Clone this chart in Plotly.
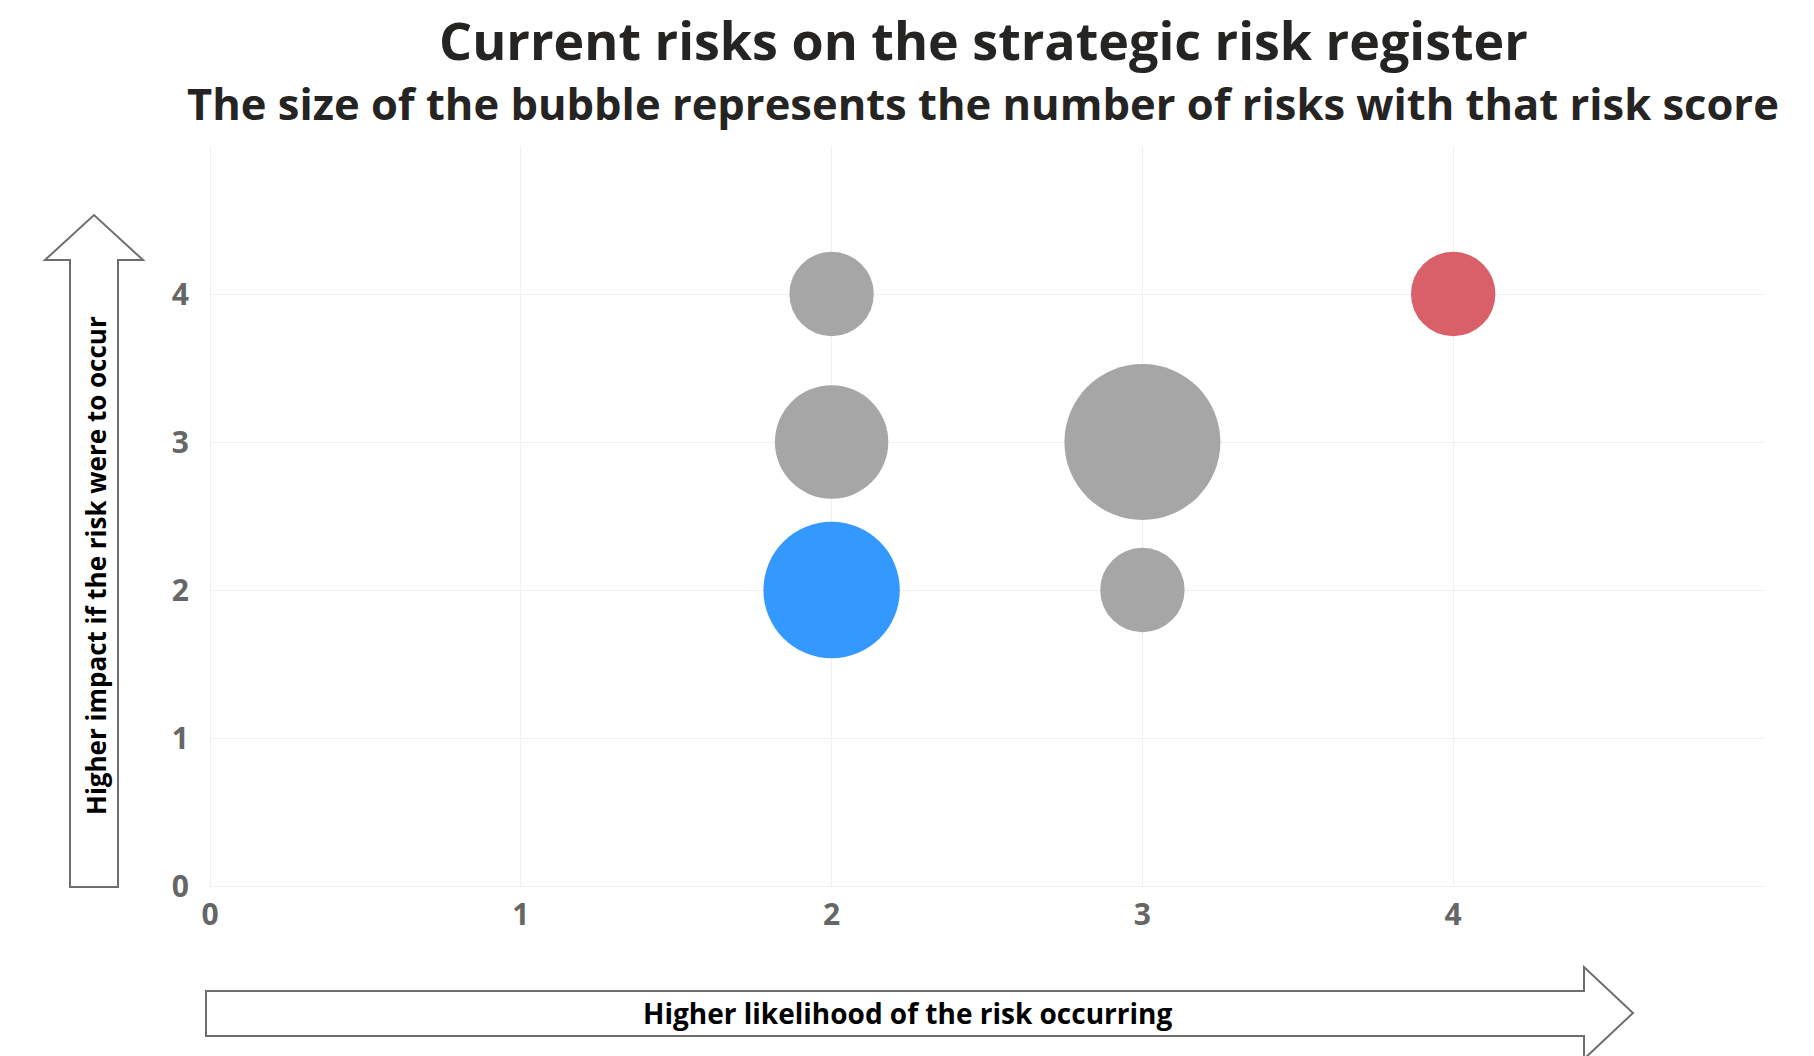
import plotly.graph_objects as go

# ---- data ----
likelihood = [2, 2, 2, 3, 3, 4]
impact = [4, 3, 2, 3, 2, 4]
risk_count = [1, 2, 3, 4, 1, 1]
status = ["other", "other", "blue", "other", "other", "red"]
x_ticks = [0, 1, 2, 3, 4, 5]
y_ticks = [0, 1, 2, 3, 4, 5]
tick_labels = ["0", "1", "2", "3", "4", ""]

title_text = "Current risks on the strategic risk register"
subtitle_text = "The size of the bubble represents the number of risks with that risk score"
x_label = "Higher likelihood of the risk occurring"
y_label = "Higher impact if the risk were to occur"

# ---- style ----
W, H = 1814, 1056
L, R, T, B = 210, 1764, 146, 886
color_map = {"other": "#A6A6A6", "blue": "#3399FF", "red": "#D95F69"}
SIZE_BASE, SIZE_K = 1385, 5738   # bubble area scale (px^2)
FONT = "Open Sans"


def px(x):
    return (x - L) / (R - L)


def py(y):
    return (B - y) / (B - T)


sizes = [(SIZE_BASE + SIZE_K * n) ** 0.5 for n in risk_count]
colors = [color_map[s] for s in status]

fig = go.Figure()
fig.add_trace(go.Scatter(
    x=likelihood, y=impact, mode="markers",
    marker=dict(size=sizes, sizemode="diameter", color=colors, opacity=1,
                line=dict(width=0)),
    hoverinfo="skip", showlegend=False,
))


def arrow_path(points):
    return "M " + " L ".join(f"{px(a):.5f},{py(b):.5f}" for a, b in points) + " Z"


y_arrow = [(70, 887), (70, 260), (45, 260), (94, 215), (143, 260), (118, 260), (118, 887)]
x_arrow = [(206, 991), (1584, 991), (1584, 967), (1633, 1013), (1584, 1059), (1584, 1036), (206, 1036)]
shapes = []
for pts in (y_arrow, x_arrow):
    shapes.append(dict(type="path", xref="paper", yref="paper", path=arrow_path(pts),
                       line=dict(color="#6E6E6E", width=2), fillcolor="white", layer="above"))

annotations = [
    dict(text=title_text, x=px(983), y=py(40), xref="paper", yref="paper",
         showarrow=False, xanchor="center", yanchor="middle",
         font=dict(family=FONT, size=52, color="#252423", weight="bold")),
    dict(text=subtitle_text, x=px(983), y=py(104), xref="paper", yref="paper",
         showarrow=False, xanchor="center", yanchor="middle",
         font=dict(family=FONT, size=43.5, color="#252423", weight="bold")),
    dict(text=x_label, x=px(907), y=py(1013), xref="paper", yref="paper",
         showarrow=False, xanchor="center", yanchor="middle",
         font=dict(family=FONT, size=28, color="#000000", weight="bold")),
    dict(text=y_label, x=px(96), y=py(566), xref="paper", yref="paper",
         showarrow=False, xanchor="center", yanchor="middle", textangle=-90,
         font=dict(family=FONT, size=26, color="#000000", weight="bold")),
]

axis_common = dict(
    range=[0, 5], showgrid=True, gridcolor="#F0F0F0", gridwidth=1,
    zeroline=True, zerolinecolor="#F0F0F0", zerolinewidth=1, showline=False,
    ticks="", tickfont=dict(family=FONT, size=30, color="#666666", weight="bold"),
    fixedrange=True,
)

fig.update_layout(
    width=W, height=H,
    margin=dict(l=L, r=W - R, t=T, b=H - B, pad=0),
    paper_bgcolor="white", plot_bgcolor="white",
    xaxis=dict(tickvals=x_ticks, ticktext=tick_labels, ticklabelstandoff=8, **axis_common),
    yaxis=dict(tickvals=y_ticks, ticktext=tick_labels, ticklabelstandoff=20, **axis_common),
    shapes=shapes, annotations=annotations,
)

fig.write_html("out.html", config={"displayModeBar": False},
               post_script="document.body.style.margin='0';document.body.style.overflow='hidden';")
